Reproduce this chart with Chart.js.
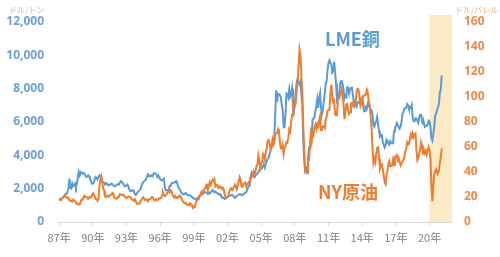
<!DOCTYPE html>
<html><head><meta charset="utf-8">
<script src="https://cdn.jsdelivr.net/npm/chart.js@4"></script>
<style>html,body{margin:0;padding:0;background:#fff}#wrap{width:500px;height:257px;position:relative}</style>
</head><body><div id="wrap"><canvas id="c" width="500" height="257"></canvas></div>
<script>
// Monthly series, first value = January 1987
const startYear = 1987;
const copperUsdPerTon = [
  1370,1380,1380,1410,1490,1510,1620,1680,1700,1820,2000,2600, // 1987
  2050,2000,2300,2150,2200,2300,2100,2300,2700,3000,2800,3000, // 1988
  2950,2900,2950,2900,2800,2700,2750,2800,2750,2600,2450,2300, // 1989
  2300,2350,2550,2700,2650,2550,2700,2800,2750,2600,2450,2400, // 1990
  2350,2300,2350,2300,2250,2200,2250,2250,2300,2250,2200,2150, // 1991
  2150,2200,2250,2250,2300,2350,2450,2400,2350,2250,2150,2150, // 1992
  2200,2250,2150,1950,1850,1850,1900,1900,1800,1680,1620,1700, // 1993
  1800,1850,1900,1950,2150,2300,2400,2450,2500,2550,2750,2850, // 1994
  2800,2750,2750,2800,2750,2900,2950,2900,2850,2700,2800,2700, // 1995
  2550,2500,2500,2550,2600,2100,1900,1900,1900,1850,2150,2150, // 1996
  2300,2350,2350,2350,2400,2450,2350,2150,2050,1950,1850,1750, // 1997
  1700,1650,1700,1750,1700,1650,1600,1600,1600,1550,1500,1450, // 1998
  1420,1380,1350,1400,1450,1420,1580,1620,1700,1720,1700,1750, // 1999
  1800,1780,1720,1680,1780,1720,1780,1820,1920,1880,1780,1820, // 2000
  1780,1730,1700,1650,1680,1580,1520,1460,1430,1380,1420,1460, // 2001
  1500,1560,1600,1580,1600,1640,1590,1480,1470,1490,1570,1590, // 2002
  1650,1680,1660,1600,1650,1650,1710,1760,1790,1920,2060,2200, // 2003
  2420,2760,3000,2950,2730,2680,2800,2860,2900,3000,3130,3140, // 2004
  3170,3250,3380,3390,3250,3530,3620,3800,3860,4060,4270,4580, // 2005
  4730,4980,5100,6380,7900,7200,7710,7690,7600,7500,7030,6700, // 2006
  5680,5700,6450,7700,7650,7480,7950,7510,7650,8000,6970,6600, // 2007
  7060,7890,8400,8600,8380,8260,8410,7630,6990,4930,3720,3070, // 2008
  3220,3310,3750,4410,4570,5010,5220,6170,6200,6290,6680,6980, // 2009
  7390,6850,7460,7740,6840,6500,6740,7280,7710,8290,8470,9150, // 2010
  9550,9700,9530,9480,8960,9040,9620,9040,8300,7390,7580,7570, // 2011
  8040,8440,8460,8290,7960,7420,7580,7510,8090,8060,7710,7960, // 2012
  8050,8060,7650,7200,7250,7000,6910,7190,7160,7200,7070,7210, // 2013
  7290,7150,6650,6670,6890,6820,7110,7000,6870,6740,6710,6450, // 2014
  5830,5730,5940,6040,6300,5830,5460,5130,5220,5220,4800,4640, // 2015
  4470,4600,4950,4870,4700,4640,4860,4750,4720,4730,5450,5660, // 2016
  5750,5940,5820,5680,5600,5720,5990,6480,6580,6810,6830,6840, // 2017
  7070,7000,6800,6840,6830,7020,6250,6050,6050,6220,6200,6070, // 2018
  5940,6300,6440,6440,6030,5880,5940,5710,5760,5760,5860,6080, // 2019
  6030,5690,5050,4900,5240,5740,6370,6500,6700,6700,7070,7760, // 2020
  7970,8800                                                    // 2021
];
const wtiUsdPerBarrel = [
  18.7,17.7,18.3,18.6,19.4,20.0,21.4,20.3,19.5,19.8,18.9,17.3, // 1987
  17.1,16.7,16.2,17.9,17.4,16.5,15.5,15.5,14.5,13.8,14.0,16.3, // 1988
  18.0,17.8,19.4,21.0,20.0,20.0,19.6,18.5,19.6,20.1,19.8,21.1, // 1989
  22.9,22.1,20.4,18.4,18.2,16.9,18.6,27.2,33.7,36.5,32.3,27.3, // 1990
  25.2,20.5,19.9,20.8,21.2,20.2,21.4,21.7,21.9,23.2,22.5,19.5, // 1991
  18.8,19.0,18.9,20.2,20.9,22.4,21.8,21.4,21.9,21.7,20.3,19.4, // 1992
  19.1,20.1,20.3,20.3,19.9,19.1,17.9,18.0,17.5,18.2,16.7,14.5, // 1993
  15.0,14.8,14.7,16.4,17.9,19.1,19.7,18.4,17.5,17.7,18.1,17.2, // 1994
  18.0,18.5,18.6,19.9,19.7,18.4,17.3,18.0,18.2,17.4,18.0,19.0, // 1995
  18.9,19.1,21.4,23.6,21.2,20.5,21.3,22.0,24.0,24.9,23.7,25.4, // 1996
  25.2,22.2,21.0,19.7,20.8,19.3,19.7,19.9,19.8,21.3,20.2,18.3, // 1997
  16.7,16.1,15.0,15.4,14.9,13.7,14.1,13.4,15.0,14.4,12.9,11.3, // 1998
  12.5,12.0,14.7,17.3,17.8,17.9,20.1,21.3,23.9,22.6,25.0,26.1, // 1999
  27.3,29.4,29.9,25.7,28.8,31.8,29.7,31.3,33.9,33.1,34.4,28.5, // 2000
  29.6,29.6,27.2,27.4,28.6,27.6,26.4,27.4,26.2,22.2,19.6,19.4, // 2001
  19.7,20.7,24.4,26.3,27.0,25.5,26.9,28.4,29.7,28.9,26.3,29.4, // 2002
  32.9,35.9,33.6,28.3,28.1,30.7,30.8,31.6,28.3,30.3,31.1,32.2, // 2003
  34.3,34.7,36.7,36.7,40.3,38.0,40.7,44.9,45.9,53.1,48.5,43.3, // 2004
  46.8,48.0,54.3,53.0,49.8,56.3,58.7,65.0,65.6,62.4,58.3,59.4, // 2005
  65.5,61.6,62.9,69.7,70.9,71.0,74.4,73.0,63.8,58.9,59.1,62.0, // 2006
  54.5,59.3,60.4,63.9,63.5,67.5,74.1,72.4,79.9,85.8,94.8,91.7, // 2007
  93.0,95.4,105.5,112.6,125.4,138.0,133.4,116.7,104.1,76.6,57.3,41.1, // 2008
  41.7,39.1,47.9,49.6,59.0,69.6,64.2,71.1,69.4,75.7,78.0,74.5, // 2009
  78.3,76.4,81.2,84.3,73.7,75.3,76.3,76.6,75.2,81.9,84.3,89.2, // 2010
  89.5,89.6,102.9,110.0,101.3,96.3,97.3,86.3,85.5,86.3,97.2,98.6, // 2011
  100.3,102.2,106.2,103.3,94.7,82.3,87.9,94.1,94.5,89.5,86.5,87.9, // 2012
  94.8,95.3,92.9,92.0,94.5,95.8,104.6,106.6,106.3,100.5,93.9,97.6, // 2013
  94.6,100.8,100.8,102.1,102.2,105.8,103.6,96.5,93.2,84.4,75.8,59.3, // 2014
  47.2,50.6,47.8,54.5,59.3,59.8,50.9,42.9,45.5,46.2,42.4,37.2, // 2015
  31.7,30.3,37.5,40.8,46.7,48.8,44.7,44.7,45.2,49.8,45.7,52.0, // 2016
  52.5,53.5,49.3,51.1,48.5,45.2,46.6,48.0,49.8,51.6,56.6,57.9, // 2017
  63.7,62.2,62.7,66.3,70.0,67.9,71.0,68.1,70.2,70.8,57.0,49.5, // 2018
  51.4,55.0,58.2,63.9,60.8,54.7,57.4,54.8,57.0,54.0,57.0,59.9, // 2019
  57.5,50.5,29.2,16.6,28.5,38.3,40.7,42.3,39.6,39.4,41.0,47.0, // 2020
  52.0,59.0                                                    // 2021
];
const tickYears = [1987,1990,1993,1996,1999,2002,2005,2008,2011,2014,2017,2020];
const highlightFrom = 2020, highlightTo = 2022;
const seriesNames = ['LME銅', 'NY原油'];
const unitLeft = 'ドル/トン', unitRight = 'ドル/バレル';
const leftTicks = [0,2000,4000,6000,8000,10000,12000];
const rightTicks = [0,20,40,60,80,100,120,140,160];

const BLUE = '#5B9BD5', ORANGE = '#ED7D31';
const toPoints = arr => arr.map((v, i) => ({x: startYear + i / 12, y: v}));

const overlay = {
  id: 'overlay',
  beforeDatasetsDraw(chart) {
    const {ctx, chartArea, scales} = chart;
    const x1 = scales.x.getPixelForValue(highlightFrom);
    const x2 = scales.x.getPixelForValue(highlightTo);
    ctx.save();
    ctx.fillStyle = '#FCEAC5';
    ctx.fillRect(x1, 15, x2 - x1, chartArea.bottom - 15);
    ctx.restore();
  },
  afterDatasetsDraw(chart) {
    const {ctx} = chart;
    ctx.save();
    ctx.textBaseline = 'middle';
    ctx.textAlign = 'left';
    ctx.font = 'bold 18px "Noto Sans CJK JP", "Noto Sans", sans-serif';
    ctx.fillStyle = BLUE;
    ctx.fillText(seriesNames[0], 325, 39);
    ctx.fillStyle = ORANGE;
    ctx.fillText(seriesNames[1], 318, 192);
    ctx.font = '8px "Noto Sans CJK JP", sans-serif';
    ctx.fillStyle = '#9DC3E6';
    ctx.fillText(unitLeft, 9, 10);
    ctx.fillStyle = '#F4B183';
    ctx.fillText(unitRight, 455, 10);
    ctx.restore();
  }
};

new Chart(document.getElementById('c'), {
  type: 'line',
  data: {
    datasets: [
      {label: seriesNames[1], data: toPoints(wtiUsdPerBarrel), yAxisID: 'y1', borderColor: ORANGE, borderWidth: 2, pointRadius: 0, tension: 0, order: 1},
      {label: seriesNames[0], data: toPoints(copperUsdPerTon), yAxisID: 'y', borderColor: BLUE, borderWidth: 2, pointRadius: 0, tension: 0, order: 2}
    ]
  },
  options: {
    responsive: false,
    animation: false,
    devicePixelRatio: 1,
    parsing: false,
    layout: {padding: {top: 22, left: 0, right: 0, bottom: 0}},
    plugins: {legend: {display: false}, tooltip: {enabled: false}},
    scales: {
      x: {
        type: 'linear', min: 1986.9, max: highlightTo,
        afterBuildTicks: s => { s.ticks = tickYears.map(v => ({value: v})); },
        afterFit: s => { s.height = 35; },
        grid: {display: true, drawOnChartArea: false, drawTicks: true, tickLength: 4, color: '#D9D9D9'},
        border: {display: true, color: '#D9D9D9'},
        ticks: {
          autoSkip: false, maxRotation: 0, padding: 5, color: '#7F7F7F',
          font: {family: '"Noto Sans CJK JP", sans-serif', size: 11},
          callback: v => String(v % 100).padStart(2, '0') + '年'
        }
      },
      y: {
        position: 'left', min: 0, max: 12000,
        afterBuildTicks: s => { s.ticks = leftTicks.map(v => ({value: v})); },
        afterFit: s => { s.width = 58; },
        grid: {display: false, drawTicks: false},
        border: {display: false},
        ticks: {
          padding: 14, color: '#6F9FD6',
          font: {family: '"Open Sans", sans-serif', size: 12, weight: 'bold'},
          callback: v => v.toLocaleString('en-US')
        }
      },
      y1: {
        position: 'right', min: 0, max: 160,
        afterBuildTicks: s => { s.ticks = rightTicks.map(v => ({value: v})); },
        afterFit: s => { s.width = 48; },
        grid: {display: false, drawTicks: false},
        border: {display: false},
        ticks: {
          padding: 12, color: '#EE8A4A',
          font: {family: '"Open Sans", sans-serif', size: 12, weight: 'bold'}
        }
      }
    }
  },
  plugins: [overlay]
});
</script></body></html>
